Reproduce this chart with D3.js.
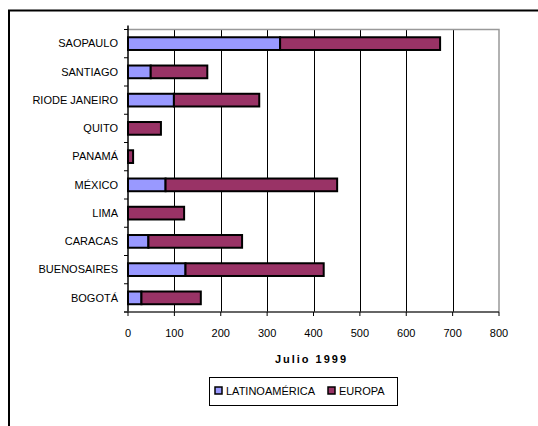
<!DOCTYPE html>
<html><head><meta charset="utf-8">
<script src="https://cdn.jsdelivr.net/npm/d3@7"></script>
<style>body{margin:0;background:#fff}svg{display:block}text{font-family:"Liberation Sans",Arial,sans-serif}</style>
</head><body>
<svg id="c" width="538" height="426"></svg>
<script>
const categories = ["SAOPAULO","SANTIAGO","RIODE JANEIRO","QUITO","PANAMÁ","MÉXICO","LIMA","CARACAS","BUENOSAIRES","BOGOTÁ"];
const latinoamerica = [328, 49, 99, 0, 0, 81, 0, 44, 124, 29];
const europa = [345, 122, 184, 71, 11, 370, 121, 202, 298, 128];
const xTicks = [0,100,200,300,400,500,600,700,800];
const seriesNames = ["LATINOAMÉRICA","EUROPA"];
const colors = ["#9999FF","#993366"];

const svg = d3.select("#c");
// outer frame
svg.append("rect").attr("x",9).attr("y",10.5).attr("width",560).attr("height",460)
  .attr("fill","none").attr("stroke","#000").attr("stroke-width",2);

const L=128, R=499, T=29.5, B=312;
const x = d3.scaleLinear().domain([0,800]).range([L,R]);
const y = d3.scaleBand().domain(categories).range([T,B]).paddingInner(0.55).paddingOuter(0.275);

// gridlines
svg.append("g").selectAll("line").data(xTicks.slice(1,-1)).join("line")
  .attr("x1",d=>Math.round(x(d))+0.5).attr("x2",d=>Math.round(x(d))+0.5)
  .attr("y1",T).attr("y2",B).attr("stroke","#000").attr("stroke-width",1);
// plot border top/right gray
svg.append("path").attr("d",`M${L},${T}H${R}V${B}`).attr("fill","none").attr("stroke","#999").attr("stroke-width",1.5);

// stacked bars
const stackData = categories.map((c,i)=>({cat:c, LATINOAMÉRICA:latinoamerica[i], EUROPA:europa[i]}));
const stacked = d3.stack().keys(seriesNames)(stackData);
stacked.forEach((s,si)=>{
  svg.append("g").selectAll("rect").data(s.filter(d=>d[1]-d[0]>0)).join("rect")
    .attr("x",d=>x(d[0])).attr("width",d=>x(d[1])-x(d[0]))
    .attr("y",d=>y(d.data.cat)).attr("height",y.bandwidth())
    .attr("fill",colors[si]).attr("stroke","#000").attr("stroke-width",2);
});

// y axis
const yAxis = svg.append("g").attr("transform",`translate(${L},0)`);
yAxis.append("line").attr("x1",0).attr("x2",0).attr("y1",T-4).attr("y2",B).attr("stroke","#000").attr("stroke-width",1.5);
const bounds = d3.range(categories.length+1).map(i=>T+i*(B-T)/categories.length);
yAxis.selectAll("line.t").data(bounds).join("line").attr("class","t")
  .attr("x1",-4).attr("x2",0).attr("y1",d=>d).attr("y2",d=>d).attr("stroke","#000");
yAxis.selectAll("text").data(categories).join("text")
  .attr("x",-10).attr("y",d=>y(d)+y.bandwidth()/2).attr("dy","0.35em")
  .attr("text-anchor","end").attr("font-size",11).attr("fill","#000").text(d=>d);

// x axis
const xAxis = svg.append("g").attr("transform",`translate(0,${B})`);
xAxis.append("line").attr("x1",L-4).attr("x2",R).attr("y1",0).attr("y2",0).attr("stroke","#333").attr("stroke-width",1.5);
xAxis.selectAll("line.t").data(xTicks).join("line").attr("class","t")
  .attr("x1",d=>x(d)).attr("x2",d=>x(d)).attr("y1",0).attr("y2",4).attr("stroke","#000");
xAxis.selectAll("text").data(xTicks).join("text")
  .attr("x",d=>x(d)).attr("y",21).attr("dy","0.35em").attr("text-anchor","middle")
  .attr("font-size",11).attr("fill","#000").text(d=>d);

// axis title
svg.append("text").attr("x",(L+R)/2 - 2).attr("y",359).attr("dy","0.35em").attr("text-anchor","middle")
  .attr("font-size",11).attr("font-weight","bold").attr("letter-spacing",2).text("Julio 1999");

// legend
const lg = svg.append("g");
lg.append("rect").attr("x",209.5).attr("y",377.5).attr("width",188).attr("height",28).attr("fill","#fff").attr("stroke","#000").attr("stroke-width",1);
const lx=[215,328];
seriesNames.forEach((n,i)=>{
  lg.append("rect").attr("x",lx[i]).attr("y",387).attr("width",7).attr("height",7).attr("fill",colors[i]).attr("stroke","#000").attr("stroke-width",1.5);
  lg.append("text").attr("x",lx[i]+11).attr("y",391).attr("dy","0.35em").attr("font-size",11).text(n);
});
</script>
</body></html>
